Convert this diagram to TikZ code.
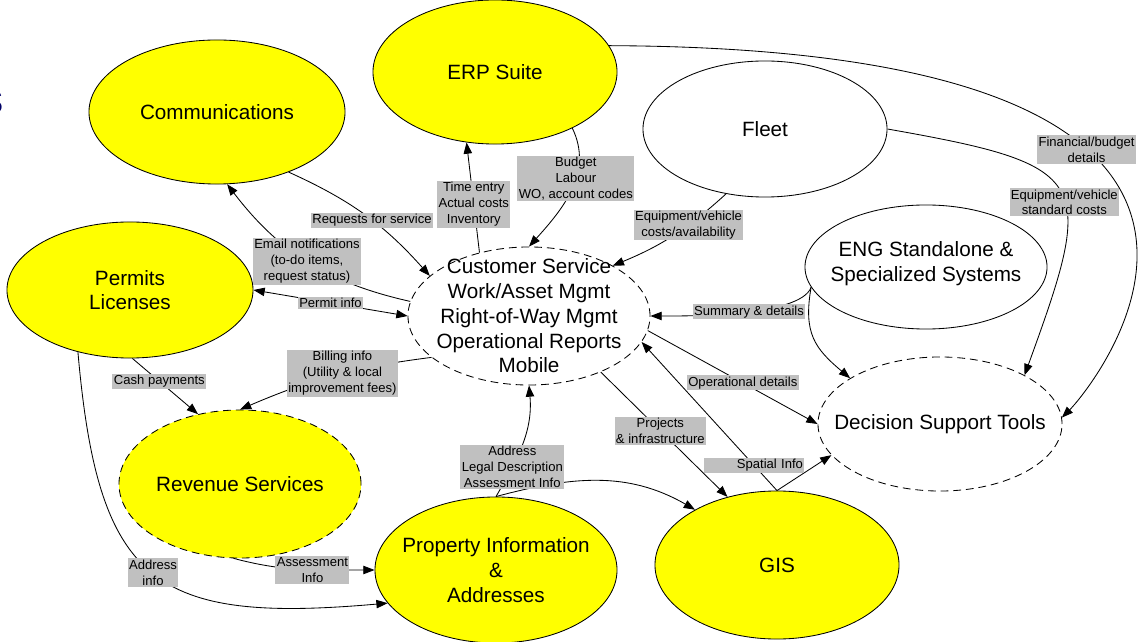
\documentclass[tikz,border=0pt]{standalone}
\usepackage{fontspec}
\setmainfont{Liberation Sans}
\usepackage{xcolor}
\usetikzlibrary{arrows.meta,shapes.geometric}
\definecolor{sysyellow}{RGB}{255,255,0}
\definecolor{boxgray}{RGB}{192,192,192}
\definecolor{ttlblue}{RGB}{0,0,102}

\begin{document}
\begin{tikzpicture}[x=0.025cm,y=-0.025cm,line width=0.6pt,
  sys/.style={ellipse,draw,inner sep=0pt},
  core/.style={sys,fill=sysyellow},
  ext/.style={sys,fill=white},
  planned/.style={dash pattern=on 5.5pt off 3.5pt},
  big/.style={font=\fontsize{14.7}{17.6}\selectfont,align=center},
  lbl/.style={fill=boxgray,inner xsep=1pt,inner ysep=1pt,align=center,
    font=\fontsize{9.3}{11.3}\selectfont},
  flow/.style={-{Triangle[length=8pt,width=6pt]}},
  twoway/.style={{Triangle[length=8pt,width=6pt]}-{Triangle[length=8pt,width=6pt]}}]
  \useasboundingbox (0,0) rectangle (1143,642);
  \node[anchor=base east,inner sep=0pt,text=ttlblue,font=\fontsize{30}{30}\selectfont] (ttl) at (4,114) {s};

  \node[core,minimum width=6.1cm,minimum height=3.6cm,label={[big]center:ERP Suite}] (erp) at (495,72) {};
  \node[core,minimum width=6.4cm,minimum height=3.6cm,label={[big]center:Communications}] (comms) at (217,112) {};
  \node[ext,minimum width=6.1cm,minimum height=3.4cm,label={[big]center:Fleet}] (fleet) at (765,129) {};
  \node[ext,minimum width=6.05cm,minimum height=3.1cm,label={[big,yshift=2.5pt]center:{ENG Standalone \&\\Specialized Systems}}] (eng) at (926,267) {};
  \node[core,minimum width=6.15cm,minimum height=3.4cm,label={[big]center:{Permits\\Licenses}}] (permits) at (130,290) {};
  \node[ext,planned,minimum width=6.05cm,minimum height=3.45cm,label={[big]center:{Customer Service\\Work/Asset Mgmt\\Right-of-Way Mgmt\\Operational Reports\\Mobile}}] (cs) at (529,316) {};
  \node[core,planned,minimum width=6.05cm,minimum height=3.7cm,label={[big]center:Revenue Services}] (rev) at (240,484) {};
  \node[core,minimum width=6.05cm,minimum height=3.65cm,label={[big]center:{Property Information\\\&\\Addresses}}] (prop) at (496,570) {};
  \node[core,minimum width=6.1cm,minimum height=3.7cm,label={[big]center:GIS}] (gis) at (777,565) {};
  \node[ext,planned,minimum width=6.1cm,minimum height=3.35cm,label={[big]center:Decision Support Tools}] (dst) at (940,424) {};

  \draw[flow] (comms.-40) to[bend left=12] node[lbl,pos=0.55] {Requests for service} (cs.158);
  \draw[flow] (cs.173) to[bend left=20] node[lbl,pos=0.5] {Email notifications\\(to-do items,\\request status)} (comms.-82);
  \draw[twoway] (permits.east) -- node[lbl] {Permit info} (cs.west);
  \draw[flow] (permits.-88) -- node[lbl,pos=0.41] {Cash payments} (rev.121);
  \draw[flow] (cs.203) to[bend right=8] node[lbl,pos=0.45] {Billing info\\(Utility \& local\\improvement fees)} (rev.north);
  \draw[flow] (permits.-130) to[out=-85,in=185,looseness=1.5] node[lbl,pos=0.5] {Address\\info} (prop.197);
  \draw[flow] (rev.-95) to[out=-15,in=180] node[lbl,pos=0.57] {Assessment\\Info} (prop.west);
  \draw[flow] (prop.north) to[out=15,in=150] (gis.146);
  \draw[flow] (prop.north) to[out=60,in=-85] node[lbl,pos=0.27] {Address\\Legal Description\\Assessment Info} (cs.south);
  \draw[flow] (cs.-38) -- node[lbl,pos=0.47] {Projects\\\& infrastructure} (gis.126);
  \draw[flow] (gis.north) -- (dst.-164);
  \draw[flow] (gis.north) -- node[lbl,pos=0.17,text width=2.45cm,align=right] {Spatial Info} (cs.-13);
  \draw[flow] (cs.-7) -- node[lbl,pos=0.56] {Operational details} (dst.west);
  \draw[flow] (eng.190) to[out=250,in=0,looseness=0.5] node[lbl,pos=0.45] {Summary \& details} (cs.east);
  \draw[flow] (eng.190) to[out=260,in=140,looseness=1.2] (dst.153);
  \draw[flow] (fleet.-121) to[bend left=10] node[lbl,pos=0.35] {Equipment/vehicle\\costs/availability} (cs.31);
  \draw[flow] (erp.-36) to[out=-64,in=48] node[lbl,pos=0.4] {Budget\\Labour\\WO, account codes} (cs.north);
  \draw[flow] (cs.128) -- node[lbl,pos=0.44] {Time entry\\Actual costs\\Inventory} (erp.-112);
  \draw[flow] (erp.13) .. controls +(760,3) and +(30,-30) .. (dst.3) node[lbl,pos=0.36] {Financial/budget\\details};
  \draw[flow] (fleet.east) to[out=-10,in=70,looseness=1.9] node[lbl,pos=0.55] {Equipment/vehicle\\standard costs} (dst.30);
\end{tikzpicture}
\end{document}
